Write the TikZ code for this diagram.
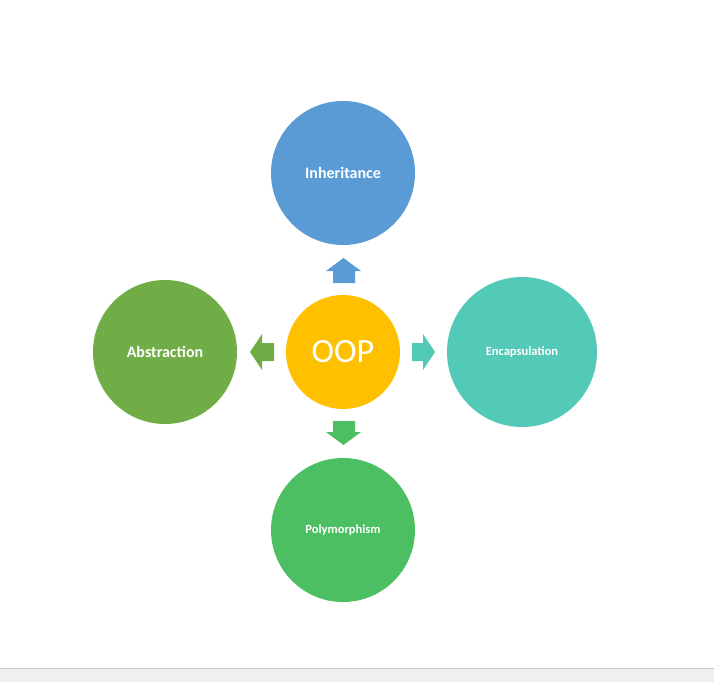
\documentclass[tikz,border=0pt]{standalone}
\usepackage{fontspec}
\setmainfont{Carlito}
\definecolor{cInh}{HTML}{5B9BD5}
\definecolor{cAbs}{HTML}{70AD47}
\definecolor{cEnc}{HTML}{53C9B7}
\definecolor{cPol}{HTML}{4CBF62}
\definecolor{cOOP}{HTML}{FFC000}
\begin{document}
\begin{tikzpicture}[x=1pt,y=-1pt,
  circ/.style={circle,inner sep=0pt,text=white,font=\bfseries},
  blk/.style={draw=none}]
\useasboundingbox (0,0) rectangle (714,682);
\fill[white] (0,0) rectangle (714,682);
\fill[black!6] (0,668) rectangle (714,682);
\draw[black!22,line width=1pt] (0,668) -- (714,668);
\node[circ,fill=cOOP,minimum size=114pt,font=\fontsize{34}{40}\selectfont] (oop) at (343,352) {OOP};
\node[circ,fill=cInh,minimum size=144pt,font=\bfseries\fontsize{16}{19}\selectfont] (inh) at (343,173) {Inheritance};
\node[circ,fill=cAbs,minimum size=144pt,font=\bfseries\fontsize{16}{19}\selectfont] (abs) at (165,352) {Abstraction};
\node[circ,fill=cEnc,minimum size=150pt,font=\bfseries\fontsize{12.5}{15}\selectfont] (enc) at (522,352) {Encapsulation};
\node[circ,fill=cPol,minimum size=144pt,font=\bfseries\fontsize{12.5}{15}\selectfont] (pol) at (343,530) {Polymorphism};
% block arrows
\fill[cInh] (343.5,258) -- (361,271) -- (355,271) -- (355,283) -- (333,283) -- (333,271) -- (326,271) -- cycle;
\fill[cPol] (343.5,445) -- (361,432) -- (355,432) -- (355,421) -- (333,421) -- (333,432) -- (326,432) -- cycle;
\fill[cEnc] (435,352) -- (423,334) -- (423,343) -- (412,343) -- (412,361) -- (423,361) -- (423,370) -- cycle;
\fill[cAbs] (250,352) -- (262,334) -- (262,343) -- (274,343) -- (274,361) -- (262,361) -- (262,370) -- cycle;
\end{tikzpicture}
\end{document}
